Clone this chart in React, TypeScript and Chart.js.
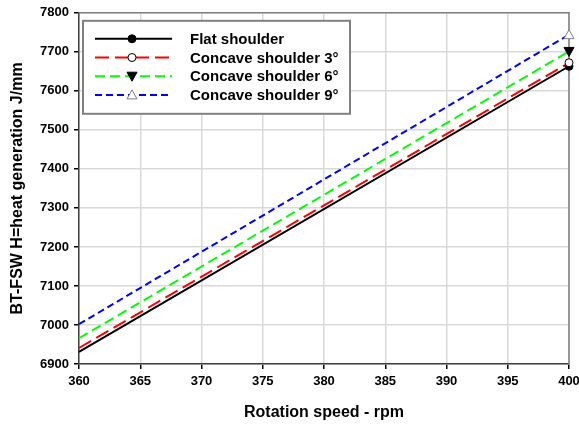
import React, { useEffect, useRef } from "react";
import { Chart, registerables } from "chart.js";

Chart.register(...registerables);

const speeds = [360, 400];
const flat = [6931, 7663];
const concave3 = [6941, 7672];
const concave6 = [6966, 7701];
const concave9 = [7002, 7744];
const seriesNames = ["Flat shoulder", "Concave shoulder 3°", "Concave shoulder 6°", "Concave shoulder 9°"];
const xTicks = [360, 365, 370, 375, 380, 385, 390, 395, 400];
const yTicks = [6900, 7000, 7100, 7200, 7300, 7400, 7500, 7600, 7700, 7800];

const FONT = "'Liberation Sans', Arial, sans-serif";

type Sty = { color: string; dash: number[]; style: string; fill: string; stroke: string; rot: number };
const styles: Sty[] = [
  { color: "#000000", dash: [], style: "circle", fill: "#000000", stroke: "#000000", rot: 0 },
  { color: "#ff0000", dash: [14, 6], style: "circle", fill: "#ffffff", stroke: "#000000", rot: 0 },
  { color: "#00ff00", dash: [10, 5], style: "triangle", fill: "#000000", stroke: "#000000", rot: 180 },
  { color: "#0000ff", dash: [7, 4], style: "triangle", fill: "#ffffff", stroke: "#808080", rot: 0 },
];

function drawMarker(ctx: CanvasRenderingContext2D, s: Sty, x: number, y: number) {
  ctx.save();
  ctx.setLineDash([]);
  ctx.fillStyle = s.fill;
  ctx.strokeStyle = s.stroke;
  ctx.lineWidth = 1;
  ctx.beginPath();
  if (s.style === "circle") {
    ctx.arc(x, y, 4, 0, Math.PI * 2);
  } else if (s.rot === 180) {
    ctx.moveTo(x - 5, y - 4);
    ctx.lineTo(x + 5, y - 4);
    ctx.lineTo(x, y + 5);
    ctx.closePath();
  } else {
    ctx.moveTo(x - 5, y + 4);
    ctx.lineTo(x + 5, y + 4);
    ctx.lineTo(x, y - 5);
    ctx.closePath();
  }
  ctx.fill();
  ctx.stroke();
  ctx.restore();
}

const frameAndLegendPlugin = {
  id: "insideLegend",
  beforeDatasetsDraw(chart: any) {
    const ctx: CanvasRenderingContext2D = chart.ctx;
    const a = chart.chartArea;
    ctx.save();
    ctx.strokeStyle = "#808080";
    ctx.lineWidth = 1.5;
    ctx.beginPath();
    ctx.moveTo(a.left, a.top);
    ctx.lineTo(a.right, a.top);
    ctx.lineTo(a.right, a.bottom);
    ctx.stroke();
    ctx.restore();
  },
  afterDraw(chart: any) {
    const ctx: CanvasRenderingContext2D = chart.ctx;
    const area = chart.chartArea;
    const x0 = area.left + 4;
    const y0 = area.top + 8;
    const w = 267;
    const h = 93;
    ctx.save();
    ctx.fillStyle = "#ffffff";
    ctx.fillRect(x0, y0, w, h);
    ctx.strokeStyle = "#808080";
    ctx.lineWidth = 2;
    ctx.strokeRect(x0, y0, w, h);
    ctx.font = `bold 15px ${FONT}`;
    ctx.textBaseline = "middle";
    ctx.textAlign = "left";
    seriesNames.forEach((name, i) => {
      const s = styles[i];
      const ry = y0 + 18 + i * 18.7;
      ctx.save();
      ctx.strokeStyle = s.color;
      ctx.lineWidth = 2;
      ctx.setLineDash(s.dash);
      ctx.beginPath();
      ctx.moveTo(x0 + 12, ry);
      ctx.lineTo(x0 + 89, ry);
      ctx.stroke();
      ctx.restore();
      drawMarker(ctx, s, x0 + 49, ry);
      ctx.fillStyle = "#000000";
      ctx.fillText(name, x0 + 107, ry + 1);
    });
    ctx.restore();
  },
};

const endMarkerPlugin = {
  id: "endMarkers",
  afterDatasetsDraw(chart: any) {
    const ctx: CanvasRenderingContext2D = chart.ctx;
    chart.data.datasets.forEach((ds: any, i: number) => {
      const meta = chart.getDatasetMeta(i);
      const last = meta.data[meta.data.length - 1];
      drawMarker(ctx, styles[i], last.x, last.y);
    });
  },
};

export default function App() {
  const ref = useRef<HTMLCanvasElement | null>(null);
  useEffect(() => {
    document.body.style.margin = "0";
    const series = [flat, concave3, concave6, concave9];
    const chart = new Chart(ref.current as HTMLCanvasElement, {
      type: "line",
      data: {
        datasets: series.map((vals, i) => ({
          label: seriesNames[i],
          data: speeds.map((x, j) => ({ x, y: vals[j] })),
          borderColor: styles[i].color,
          borderDash: styles[i].dash,
          borderWidth: 2,
          pointRadius: 0,
          fill: false,
          clip: false as any,
        })),
      },
      options: {
        animation: false,
        responsive: false,
        layout: { padding: { top: 11, right: 10, left: 0, bottom: 0 } },
        plugins: { legend: { display: false }, tooltip: { enabled: false } },
        scales: {
          x: {
            type: "linear",
            min: 360,
            max: 400,
            afterBuildTicks: (s: any) => { s.ticks = xTicks.map((v) => ({ value: v })); },
            afterFit: (s: any) => { s.height = 62; s.paddingRight = 0; s.paddingLeft = 0; },
            grid: { color: "#d9d9d9", lineWidth: 1.5, tickLength: 5, tickColor: "#000000", drawOnChartArea: true },
            border: { color: "#404040", width: 1.5 },
            ticks: { color: "#000000", font: { family: FONT, size: 13, weight: "bold" }, padding: 5, maxRotation: 0, callback: (v: any) => String(v) },
            title: { display: true, text: "Rotation speed - rpm", color: "#000000", font: { family: FONT, size: 16, weight: "bold" }, padding: { top: 8 } },
          },
          y: {
            type: "linear",
            min: 6900,
            max: 7800,
            afterBuildTicks: (s: any) => { s.ticks = yTicks.map((v) => ({ value: v })); },
            afterFit: (s: any) => { s.width = 79; },
            grid: { color: "#d9d9d9", lineWidth: 1.5, tickLength: 5, tickColor: "#000000" },
            border: { color: "#404040", width: 1.5 },
            ticks: { color: "#000000", font: { family: FONT, size: 13, weight: "bold" }, padding: 5, callback: (v: any) => String(v) },
            title: { display: true, text: "BT-FSW H=heat generation J/mm", color: "#000000", font: { family: FONT, size: 16, weight: "bold" }, padding: { top: 8, bottom: 4 } },
          },
        },
      } as any,
      plugins: [endMarkerPlugin, frameAndLegendPlugin],
    });
    return () => chart.destroy();
  }, []);
  return (
    <div style={{ position: "absolute", left: 0, top: 0, width: 579, height: 426, background: "#fff" }}>
      <canvas ref={ref} width={579} height={426} />
    </div>
  );
}
